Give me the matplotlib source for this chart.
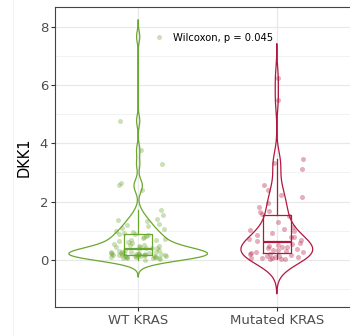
import numpy as np
import matplotlib
matplotlib.use("Agg")
import matplotlib.pyplot as plt
from matplotlib.lines import Line2D

# ---- data ----
groups = ["WT KRAS", "Mutated KRAS"]
colors = ["#6AA72E", "#B2173F"]
wt_dkk1 = [0.00, 0.05, 0.06, 0.07, 0.08, 0.08, 0.09, 0.10, 0.10, 0.11, 0.12,
           0.12, 0.13, 0.13, 0.14, 0.14, 0.15, 0.15, 0.16, 0.16, 0.17, 0.17,
           0.18, 0.18, 0.19, 0.19, 0.20, 0.20, 0.21, 0.22, 0.22, 0.23, 0.24,
           0.25, 0.25, 0.26, 0.27, 0.28, 0.29, 0.31, 0.33, 0.35, 0.38,
           0.40, 0.41, 0.42, 0.44, 0.45, 0.47, 0.49, 0.51, 0.53, 0.55, 0.58,
           0.61, 0.64, 0.67, 0.70, 0.73, 0.76, 0.79, 0.82, 0.85, 0.88,
           0.89, 0.92, 0.95, 1.00, 1.05, 1.10, 1.15, 1.20, 1.23, 1.34, 1.37,
           1.40, 1.55, 1.71, 2.40, 2.57, 2.64, 3.29, 3.77, 4.77, 7.65]
mut_dkk1 = [0.02, 0.04, 0.05, 0.07, 0.07, 0.08, 0.10, 0.10, 0.13, 0.15, 0.18,
            0.20, 0.22, 0.24, 0.26, 0.27, 0.30, 0.34, 0.34, 0.38, 0.41, 0.45,
            0.45, 0.48, 0.51, 0.55, 0.60, 0.64, 0.68, 0.72, 0.79, 0.79, 0.85,
            0.93, 0.99, 1.03, 1.06, 1.13, 1.30, 1.50, 1.56, 1.65, 1.68, 1.82,
            1.95, 2.16, 2.23, 2.40, 2.57, 3.12, 3.33, 3.46, 5.49, 6.24]
pval_label = "Wilcoxon, p = 0.045"
y_label = "DKK1"


def bw_nrd0(x):
    x = np.asarray(x)
    iqr = np.subtract(*np.percentile(x, [75, 25]))
    lo = min(np.std(x, ddof=1), iqr / 1.34)
    return 0.9 * lo * len(x) ** -0.2


def kde(x, n=512):
    x = np.asarray(x); bw = bw_nrd0(x)
    grid = np.linspace(x.min() - 3 * bw, x.max() + 3 * bw, n)
    d = np.exp(-0.5 * ((grid[:, None] - x[None, :]) / bw) ** 2).sum(1)
    return grid, d / (len(x) * bw * np.sqrt(2 * np.pi))


fig = plt.figure(figsize=(3.5, 3.36), dpi=100)
ax = fig.add_axes([55 / 350, 1 - 307 / 336, 305 / 350, 300 / 336])
fig.add_artist(Line2D([13 / 350, 13 / 350], [0, 1], color="#f2f2f2", lw=0.8))

data = [wt_dkk1, mut_dkk1]
dens = [kde(v) for v in data]
dmax = max(d.max() for _, d in dens)
rng = np.random.default_rng(7)
for i, (vals, (g, d), c) in enumerate(zip(data, dens, colors)):
    xc = i + 1
    w = d / dmax * 0.5
    ax.fill(np.r_[xc - w, (xc + w)[::-1]], np.r_[g, g[::-1]],
            facecolor="none", edgecolor=c, lw=0.9, zorder=3)
    ax.boxplot([vals], positions=[xc], widths=0.2, showfliers=False, showcaps=False,
               boxprops=dict(color=c, lw=0.9), whiskerprops=dict(color=c, lw=0.9),
               medianprops=dict(color=c, lw=1.6), manage_ticks=False, zorder=3)
    jx = xc + rng.uniform(-0.2, 0.2, len(vals))
    ax.scatter(jx, vals, s=13, color=c, alpha=0.35, lw=0, zorder=4)

ax.text(1.25, 7.6, pval_label, ha="left", va="center", fontsize=7.2)

ax.set_xlim(0.4, 2.6)
ax.set_ylim(-1.61, 8.67)
ax.set_xticks([1, 2], groups)
ax.set_yticks([0, 2, 4, 6, 8])
ax.set_yticks([-1, 1, 3, 5, 7], minor=True)
ax.grid(True, which="major", color="#e8e8e8", lw=0.9, zorder=0)
ax.grid(True, which="minor", axis="y", color="#f0f0f0", lw=0.6, zorder=0)
ax.set_axisbelow(True)
ax.tick_params(which="major", length=3, color="#333333", labelsize=9.5,
               labelcolor="#4d4d4d", pad=2)
ax.tick_params(which="minor", length=0)
for s in ax.spines.values():
    s.set_color("#444444"); s.set_linewidth(0.8)
ax.spines["right"].set_visible(False)
ax.set_ylabel(y_label, fontsize=10.5, labelpad=6)
fig.savefig("out.png", dpi=100)
